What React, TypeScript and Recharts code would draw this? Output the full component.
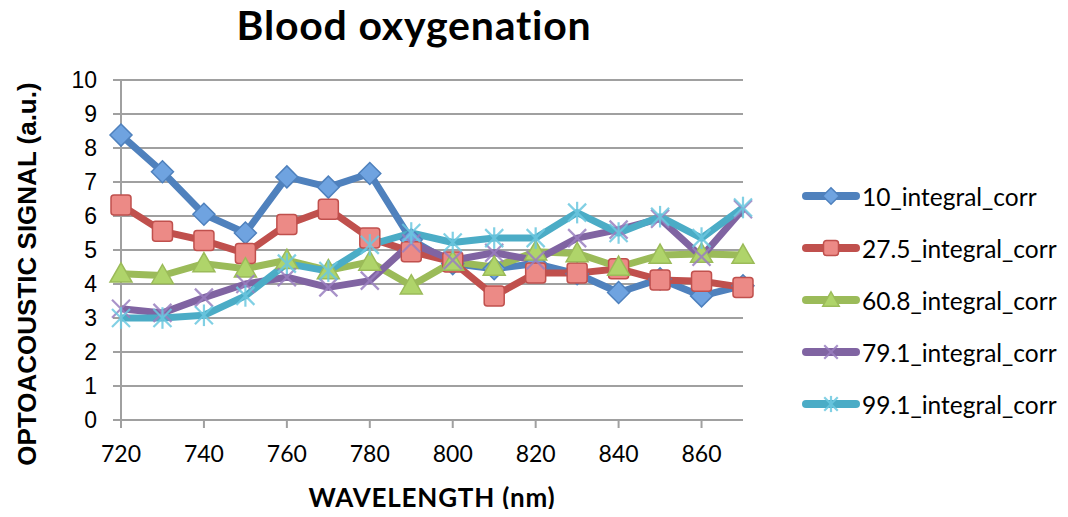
import React from "react";
import { LineChart, Line, XAxis, YAxis, CartesianGrid } from "recharts";

const wavelengths = [720, 730, 740, 750, 760, 770, 780, 790, 800, 810, 820, 830, 840, 850, 860, 870];
const yTicks = [0, 1, 2, 3, 4, 5, 6, 7, 8, 9, 10];

const corr10 = [8.38, 7.3, 6.05, 5.5, 7.15, 6.85, 7.25, 5.3, 4.6, 4.45, 4.6, 4.3, 3.75, 4.15, 3.65, 3.95];
const corr275 = [6.32, 5.55, 5.28, 4.9, 5.75, 6.2, 5.35, 4.95, 4.65, 3.65, 4.32, 4.32, 4.45, 4.12, 4.08, 3.9];
const corr608 = [4.3, 4.25, 4.6, 4.45, 4.7, 4.4, 4.65, 3.95, 4.65, 4.5, 4.95, 4.9, 4.5, 4.85, 4.88, 4.85];
const corr791 = [3.27, 3.15, 3.6, 4.0, 4.2, 3.9, 4.1, 5.2, 4.7, 4.92, 4.7, 5.35, 5.6, 5.92, 4.8, 6.2];
const corr991 = [3.0, 3.0, 3.08, 3.65, 4.6, 4.38, 5.15, 5.5, 5.22, 5.35, 5.35, 6.1, 5.5, 5.98, 5.35, 6.25];

const seriesNames = [
  "10_integral_corr",
  "27.5_integral_corr",
  "60.8_integral_corr",
  "79.1_integral_corr",
  "99.1_integral_corr",
];
const seriesValues = [corr10, corr275, corr608, corr791, corr991];
const seriesKeys = ["s10", "s275", "s608", "s791", "s991"];
const lineColors = ["#4f81bd", "#c0504d", "#9bbb59", "#8064a2", "#4bacc6"];
const markerFills = ["#6fa3e0", "#ec8a86", "#afd46a", "#9a7fc0", "#6cc8e0"];
const markerTypes = ["diamond", "square", "triangle", "x", "star"];

const chartData = wavelengths.map((w, i) => {
  const row: Record<string, number | string> = { wl: String(w) };
  seriesKeys.forEach((k, j) => {
    row[k] = seriesValues[j][i];
  });
  return row;
});

function Marker({
  type,
  cx,
  cy,
  stroke,
  fill,
  size = 1,
}: {
  type: string;
  cx: number;
  cy: number;
  stroke: string;
  fill: string;
  size?: number;
}) {
  if (cx == null || cy == null) return null;
  if (type === "diamond") {
    const r = 11 * size;
    return (
      <polygon
        points={`${cx},${cy - r} ${cx + r},${cy} ${cx},${cy + r} ${cx - r},${cy}`}
        fill={fill}
        stroke={stroke}
        strokeWidth={1.5}
      />
    );
  }
  if (type === "square") {
    const r = 10 * size;
    return (
      <rect x={cx - r} y={cy - r} width={2 * r} height={2 * r} rx={3} fill={fill} stroke={stroke} strokeWidth={1.5} />
    );
  }
  if (type === "triangle") {
    const r = 11 * size;
    return (
      <polygon
        points={`${cx},${cy - r} ${cx + r},${cy + r * 0.75} ${cx - r},${cy + r * 0.75}`}
        fill={fill}
        stroke={stroke}
        strokeWidth={1.5}
      />
    );
  }
  const r = 9 * size;
  return (
    <g stroke={fill} strokeWidth={2.2} opacity={0.85}>
      <line x1={cx - r} y1={cy - r} x2={cx + r} y2={cy + r} />
      <line x1={cx - r} y1={cy + r} x2={cx + r} y2={cy - r} />
      {type === "star" && <line x1={cx} y1={cy - r * 1.2} x2={cx} y2={cy + r * 1.2} />}
    </g>
  );
}

function LegendIcon({ idx }: { idx: number }) {
  return (
    <svg width={62} height={22} style={{ display: "block", flexShrink: 0 }}>
      <line x1={6} y1={11} x2={56} y2={11} stroke={lineColors[idx]} strokeWidth={8} strokeLinecap="round" />
      <Marker type={markerTypes[idx]} cx={31} cy={11} stroke={lineColors[idx]} fill={markerFills[idx]} size={0.75} />
    </svg>
  );
}

const font = "'Lato', 'Open Sans', sans-serif";
const arial = "'Liberation Sans', Arial, sans-serif";

export default function App() {
  return (
    <div style={{ position: "relative", width: 1068, height: 517, margin: -8, background: "#fff" }}>
      <div
        style={{
          position: "absolute",
          left: 414,
          top: 24,
          transform: "translate(-50%, -50%)",
          whiteSpace: "nowrap",
          fontFamily: font,
          fontWeight: 700,
          fontSize: 41,
          letterSpacing: 0.8,
          color: "#000",
        }}
      >
        Blood oxygenation
      </div>
      <LineChart
        width={1068}
        height={517}
        data={chartData}
        margin={{ top: 80, right: 325, bottom: 57, left: 71 }}
      >
        <CartesianGrid vertical={false} stroke="#a0a0a0" strokeWidth={2} />
        <XAxis
          dataKey="wl"
          height={40}
          interval={1}
          axisLine={{ stroke: "#a0a0a0", strokeWidth: 2 }}
          tickLine={{ stroke: "#a0a0a0", strokeWidth: 2 }}
          tickSize={8}
          tickMargin={18}
          tick={{ fill: "#000", fontSize: 23, fontFamily: font }}
        />
        <YAxis
          domain={[0, 10]}
          ticks={yTicks}
          width={50}
          interval={0}
          axisLine={{ stroke: "#a0a0a0", strokeWidth: 2 }}
          tickLine={{ stroke: "#a0a0a0", strokeWidth: 2 }}
          tickSize={8}
          tickMargin={16}
          tick={{ fill: "#000", fontSize: 23, fontFamily: arial }}
        />
        {seriesKeys.map((k, i) => (
          <Line
            key={k}
            dataKey={k}
            name={seriesNames[i]}
            type="linear"
            stroke={lineColors[i]}
            strokeWidth={7}
            strokeLinejoin="round"
            isAnimationActive={false}
            activeDot={false}
            dot={(p: any) => (
              <Marker
                key={`${k}-${p.index}`}
                type={markerTypes[i]}
                cx={p.cx}
                cy={p.cy}
                stroke={lineColors[i]}
                fill={markerFills[i]}
              />
            )}
          />
        ))}
      </LineChart>
      <div
        style={{
          position: "absolute",
          left: 27,
          top: 274,
          transform: "translate(-50%, -50%) rotate(-90deg)",
          whiteSpace: "nowrap",
          fontFamily: arial,
          fontWeight: 700,
          fontSize: 26,
        }}
      >
        OPTOACOUSTIC SIGNAL (a.u.)
      </div>
      <div
        style={{
          position: "absolute",
          left: 432,
          top: 497,
          transform: "translate(-50%, -50%)",
          whiteSpace: "nowrap",
          fontFamily: font,
          fontWeight: 700,
          fontSize: 26,
          letterSpacing: 0.8,
        }}
      >
        WAVELENGTH (nm)
      </div>
      <div style={{ position: "absolute", left: 800, top: 170, width: 260 }}>
        {seriesNames.map((n, i) => (
          <div key={n} style={{ display: "flex", alignItems: "center", height: 52 }}>
            <LegendIcon idx={i} />
            <span style={{ fontFamily: font, fontSize: 24.5, whiteSpace: "nowrap", color: "#000" }}>{n}</span>
          </div>
        ))}
      </div>
    </div>
  );
}
